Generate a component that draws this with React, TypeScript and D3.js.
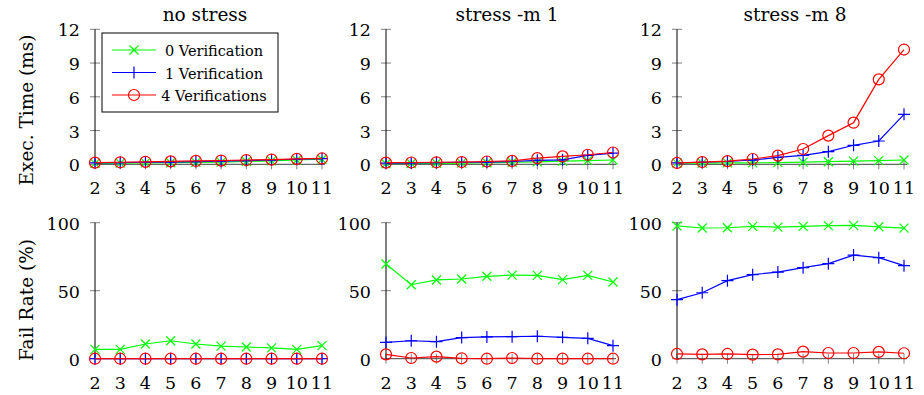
import React from 'react';
import * as d3 from 'd3';

// thread counts on the x axis
const threads = [2, 3, 4, 5, 6, 7, 8, 9, 10, 11];
const seriesLabels = ['0 Verification', '1 Verification', '4 Verifications'];
const panelTitles = ['no stress', 'stress -m 1', 'stress -m 8'];
const timeTicks = [0, 3, 6, 9, 12];
const failTicks = [0, 50, 100];

// execution time (ms)
const timeNoStressV0 = [0.08, 0.1, 0.12, 0.14, 0.17, 0.2, 0.25, 0.3, 0.38, 0.45];
const timeNoStressV1 = [0.12, 0.15, 0.18, 0.2, 0.24, 0.28, 0.33, 0.38, 0.45, 0.5];
const timeNoStressV4 = [0.15, 0.18, 0.22, 0.26, 0.3, 0.33, 0.38, 0.42, 0.48, 0.52];
const timeStress1V0 = [0.05, 0.07, 0.09, 0.11, 0.14, 0.18, 0.22, 0.28, 0.33, 0.38];
const timeStress1V1 = [0.1, 0.12, 0.15, 0.18, 0.2, 0.25, 0.35, 0.4, 0.8, 1.0];
const timeStress1V4 = [0.15, 0.16, 0.18, 0.2, 0.25, 0.3, 0.55, 0.7, 0.85, 1.05];
const timeStress8V0 = [0.1, 0.1, 0.12, 0.13, 0.15, 0.2, 0.23, 0.28, 0.33, 0.38];
const timeStress8V1 = [0.12, 0.18, 0.25, 0.38, 0.62, 0.8, 1.12, 1.69, 2.07, 4.44];
const timeStress8V4 = [0.12, 0.2, 0.28, 0.47, 0.77, 1.36, 2.55, 3.7, 7.55, 10.2];

// fail rate (%)
const failNoStressV0 = [6.9, 6.9, 10.8, 13.2, 10.8, 9.3, 8.6, 8.0, 6.9, 9.6];
const failNoStressV1 = [0, 0, 0, 0, 0, 0, 0, 0, 0, 0];
const failNoStressV4 = [0, 0, 0, 0, 0, 0, 0, 0, 0, 0];
const failStress1V0 = [69.6, 54.4, 57.9, 58.6, 60.6, 61.5, 61.3, 58.1, 61.3, 56.4];
const failStress1V1 = [12, 13.2, 12.5, 15.5, 16, 16.2, 16.5, 15.7, 15, 9.6];
const failStress1V4 = [3.2, 0.5, 1.5, 0.3, 0, 0.5, 0, 0, 0, 0];
const failStress8V0 = [97.6, 96.1, 96.3, 97.3, 96.8, 97.3, 97.8, 98, 97, 96];
const failStress8V1 = [43.4, 48.5, 57.4, 61.8, 63.7, 66.9, 69.9, 76.2, 74.3, 68.4];
const failStress8V4 = [3.5, 3.2, 3.5, 3, 3.2, 5.2, 4.2, 4.2, 5, 4];

const colors = ['#00ff00', '#0000ff', '#ff0000'];
const FONT = "'DejaVu Serif', serif";

const panelLeft = [95, 386, 677];
const panelWidth = 227;
const titleX = [205, 507, 795];

const rows = [
  { top: 29.3, bottom: 164.3, max: 12, ticks: timeTicks, label: 'Exec. Time (ms)', labelY: 110,
    data: [[timeNoStressV0, timeNoStressV1, timeNoStressV4], [timeStress1V0, timeStress1V1, timeStress1V4], [timeStress8V0, timeStress8V1, timeStress8V4]] },
  { top: 222.7, bottom: 358.7, max: 100, ticks: failTicks, label: 'Fail Rate (%)', labelY: 300,
    data: [[failNoStressV0, failNoStressV1, failNoStressV4], [failStress1V0, failStress1V1, failStress1V4], [failStress8V0, failStress8V1, failStress8V4]] },
];

function Marker({ kind, x, y, color }: { kind: number; x: number; y: number; color: string }) {
  if (kind === 0) {
    const s = 4.5;
    return <path d={`M${x - s},${y - s}L${x + s},${y + s}M${x - s},${y + s}L${x + s},${y - s}`} stroke={color} strokeWidth={1.2} fill="none" />;
  }
  if (kind === 1) {
    const s = 6;
    return <path d={`M${x - s},${y}L${x + s},${y}M${x},${y - s}L${x},${y + s}`} stroke={color} strokeWidth={1.2} fill="none" />;
  }
  return <circle cx={x} cy={y} r={5.5} stroke={color} strokeWidth={1.2} fill="none" />;
}

function Panel({ col, row }: { col: number; row: any }) {
  const x = d3.scaleLinear().domain([2, 11]).range([panelLeft[col], panelLeft[col] + panelWidth]);
  const y = d3.scaleLinear().domain([0, row.max]).range([row.bottom, row.top]);
  const series: number[][] = row.data[col];
  return (
    <g>
      {threads.map((t) => (
        <line key={'xt' + t} x1={x(t)} x2={x(t)} y1={y(0) - 5} y2={y(0) + 5} stroke="#808080" strokeWidth={1} />
      ))}
      {row.ticks.map((t: number) => (
        <line key={'yt' + t} x1={x(2) - 5} x2={x(2) + 5} y1={y(t)} y2={y(t)} stroke="#808080" strokeWidth={1} />
      ))}
      <line x1={x(2)} x2={x(11) + 3} y1={y(0)} y2={y(0)} stroke="#404040" strokeWidth={1} />
      <line x1={x(2)} x2={x(2)} y1={y(0)} y2={y(row.max)} stroke="#000" strokeWidth={1} />
      {threads.map((t) => (
        <text key={'xl' + t} x={x(t)} y={y(0) + 30} textAnchor="middle" style={{ fontSize: 17.5, fontFamily: FONT }}>{t}</text>
      ))}
      {row.ticks.map((t: number) => (
        <text key={'yl' + t} x={x(2) - 15} y={y(t) + 7} textAnchor="end" style={{ fontSize: 17.5, fontFamily: FONT }}>{t}</text>
      ))}
      {series.map((vals, si) => {
        const line = d3.line<number>().x((_, i) => x(threads[i])).y((v) => y(v));
        return (
          <g key={si}>
            <path d={line(vals) || ''} stroke={colors[si]} strokeWidth={1.2} fill="none" />
            {vals.map((v, i) => (
              <Marker key={i} kind={si} x={x(threads[i])} y={y(v)} color={colors[si]} />
            ))}
          </g>
        );
      })}
    </g>
  );
}

export default function App() {
  return (
    <svg width={924} height={395} style={{ position: 'absolute', left: 0, top: 0, background: '#fff' }}>
      <rect width={924} height={395} fill="#fff" />
      {panelTitles.map((t, i) => (
        <text key={t} x={titleX[i]} y={21} textAnchor="middle" style={{ fontSize: 18.5, fontFamily: FONT }}>{t}</text>
      ))}
      {rows.map((row, ri) => (
        <g key={ri}>
          <text transform={`translate(33,${row.labelY}) rotate(-90)`} textAnchor="middle" style={{ fontSize: 18.5, fontFamily: FONT }}>{row.label}</text>
          {[0, 1, 2].map((c) => <Panel key={c} col={c} row={row} />)}
        </g>
      ))}
      {/* legend */}
      <g>
        <rect x={102} y={33} width={176} height={79} fill="#fff" stroke="#000" strokeWidth={1} />
        {seriesLabels.map((lab, i) => {
          const cy = 50 + i * 22.5;
          return (
            <g key={lab}>
              <line x1={112} x2={156} y1={cy} y2={cy} stroke={colors[i]} strokeWidth={1.2} />
              <Marker kind={i} x={134} y={cy} color={colors[i]} />
              <text x={214} y={cy + 6} textAnchor="middle" style={{ fontSize: 14.5, fontFamily: FONT }}>{lab}</text>
            </g>
          );
        })}
      </g>
    </svg>
  );
}
